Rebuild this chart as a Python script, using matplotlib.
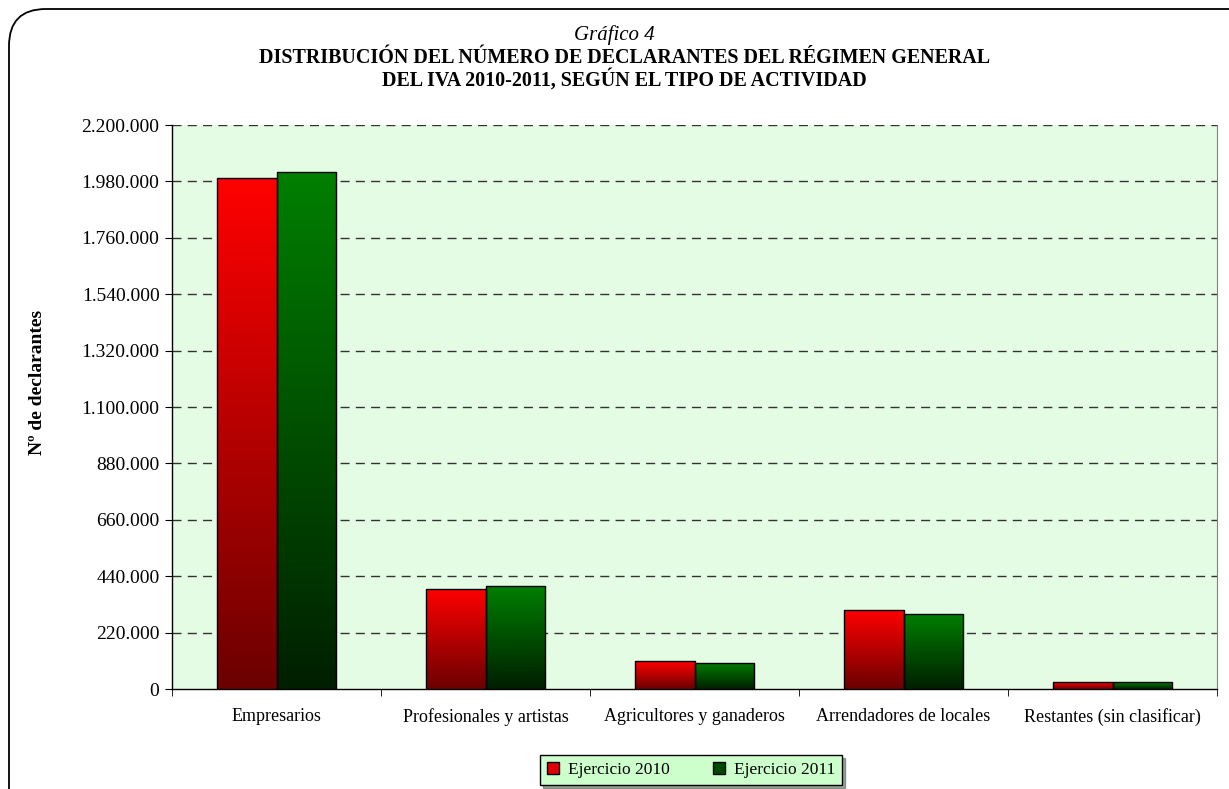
import numpy as np
import matplotlib
matplotlib.use("Agg")
import matplotlib.pyplot as plt
from matplotlib.patches import FancyBboxPatch, Rectangle
from matplotlib.ticker import FuncFormatter

plt.rcParams['font.family'] = ['Liberation Serif', 'DejaVu Serif']

categorias = ["Empresarios", "Profesionales y artistas", "Agricultores y ganaderos",
              "Arrendadores de locales", "Restantes (sin clasificar)"]
ej2010 = [1994000, 392000, 108000, 307000, 26000]
ej2011 = [2015000, 403000, 102000, 294000, 26000]
series = ["Ejercicio 2010", "Ejercicio 2011"]
yticks = [0, 220000, 440000, 660000, 880000, 1100000, 1320000, 1540000, 1760000, 1980000, 2200000]

fig = plt.figure(figsize=(12.29, 7.89), dpi=100)
ax = fig.add_axes([172/1229, 1-689/789, (1217-172)/1229, (689-125)/789])

# marco redondeado de la figura
marco = FancyBboxPatch((9/1229, -0.05), 1.2, 1-9/789+0.05, boxstyle="round,pad=0,rounding_size=0.03",
                       transform=fig.transFigure, fill=False, edgecolor="black", lw=1.3,
                       mutation_aspect=1229/789)
fig.patches.append(marco)

ax.set_facecolor("#e3fce3")
x = np.arange(len(categorias))
w = 1/3.5


def barra_degradado(x0, h, c_top, c_bot):
    r = Rectangle((x0, 0), w, h, facecolor="none", edgecolor="black", lw=1, zorder=4)
    ax.add_patch(r)
    grad = np.linspace(0, 1, 256)
    img = np.zeros((256, 1, 3))
    for k in range(3):
        img[:, 0, k] = c_bot[k] + (c_top[k] - c_bot[k]) * grad
    im = ax.imshow(img, extent=(x0, x0 + w, 0, h), origin="lower", aspect="auto", zorder=3)
    im.set_clip_path(r)


for i in range(len(categorias)):
    barra_degradado(x[i] - w, ej2010[i], (1, 0, 0), (0.42, 0, 0))
    barra_degradado(x[i], ej2011[i], (0, 0.5, 0), (0, 0.12, 0))

ax.set_xlim(-0.5, len(categorias) - 0.5)
ax.set_ylim(0, 2200000)
ax.set_yticks(yticks)
ax.yaxis.set_major_formatter(FuncFormatter(lambda v, p: f"{int(v):,}".replace(",", ".")))
ax.set_xticks(x)
ax.set_xticklabels(categorias, fontsize=13)
ax.set_xticks(np.arange(len(categorias) + 1) - 0.5, minor=True)
ax.tick_params(axis="x", which="major", length=0, pad=14)
ax.tick_params(axis="x", which="minor", length=5, direction="out", color="black")
ax.tick_params(axis="y", length=5, labelsize=14, pad=4)

for v in yticks[1:]:
    ax.axhline(v, color="#333333", lw=1, ls=(0, (6.5, 4.5)), zorder=2)

for s in ["left", "bottom"]:
    ax.spines[s].set_color("black")
    ax.spines[s].set_linewidth(1)
ax.spines["top"].set_visible(False)
ax.spines["right"].set_color("#808080")

fig.text(38/1229, 1-382/789, "Nº de declarantes", rotation=90, ha="center", va="center",
         fontsize=14, fontweight="bold")

fig.text(0.5, 1-35/789, "Gráfico 4", ha="center", va="center", fontsize=15, style="italic")
fig.text(0.508, 1-58/789, "DISTRIBUCIÓN DEL NÚMERO DE DECLARANTES DEL RÉGIMEN GENERAL",
         ha="center", va="center", fontsize=14.4, fontweight="bold")
fig.text(0.508, 1-80/789, "DEL IVA 2010-2011, SEGÚN EL TIPO DE ACTIVIDAD",
         ha="center", va="center", fontsize=14.4, fontweight="bold")

h1 = Rectangle((0, 0), 1, 1, facecolor="#e00000", edgecolor="black")
h2 = Rectangle((0, 0), 1, 1, facecolor="#004a00", edgecolor="black")
leg = fig.legend([h1, h2], series, loc="center", bbox_to_anchor=(691/1229, 1-770/789), ncol=2,
                 fontsize=12.5, frameon=True, fancybox=False, shadow=True, handlelength=0.7,
                 handleheight=0.7, columnspacing=2.5, borderpad=0.4, handletextpad=0.5)
leg.get_frame().set_facecolor("#ccffcc")
leg.get_frame().set_edgecolor("black")
leg.get_frame().set_alpha(1)

fig.savefig("out.png", dpi=100)
